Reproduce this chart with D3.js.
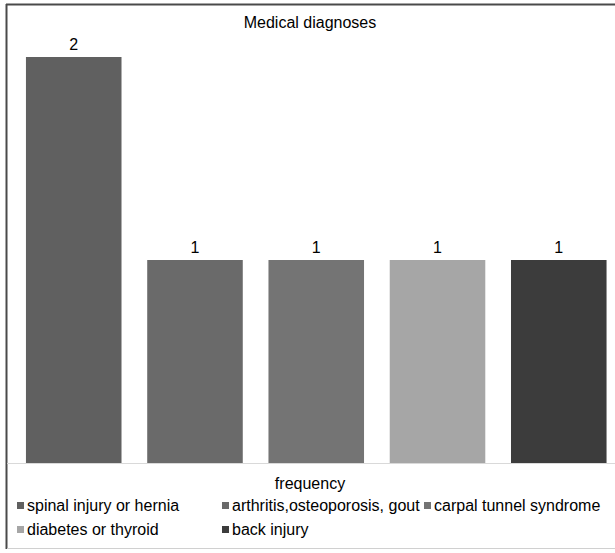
<!DOCTYPE html>
<html>
<head>
<meta charset="utf-8">
<script src="https://cdn.jsdelivr.net/npm/d3@7"></script>
<style>
  html, body { margin: 0; padding: 0; background: #fff; }
  svg { display: block; }
  text { font-family: "Liberation Sans", Arial, sans-serif; fill: #000; }
</style>
</head>
<body>
<script>
// Diagnosis categories and their counts
const categories = [
  "spinal injury or hernia",
  "arthritis,osteoporosis, gout",
  "carpal tunnel syndrome",
  "diabetes or thyroid",
  "back injury"
];
const frequency = [2, 1, 1, 1, 1];
const barColors = ["#606060", "#6a6a6a", "#747474", "#a6a6a6", "#3c3c3c"];
const chartTitle = "Medical diagnoses";
const seriesName = "frequency";

const W = 615, H = 553;
const svg = d3.select("body").append("svg").attr("width", W).attr("height", H);

// chart frame: dark left/top edges, light bottom edge
svg.append("rect").attr("x", 0).attr("y", 0).attr("width", W).attr("height", H).attr("fill", "#fff");
svg.append("line").attr("x1", 6.5).attr("x2", 6.5).attr("y1", 4).attr("y2", 549)
  .attr("stroke", "#4a4a4a").attr("stroke-width", 2);
svg.append("line").attr("x1", 6).attr("x2", W).attr("y1", 4.5).attr("y2", 4.5)
  .attr("stroke", "#4a4a4a").attr("stroke-width", 2);
svg.append("line").attr("x1", 7).attr("x2", W).attr("y1", 548.5).attr("y2", 548.5)
  .attr("stroke", "#d0d0d0").attr("stroke-width", 1);

const x = d3.scaleBand()
  .domain(categories)
  .range([13.1, 619.4])
  .paddingInner(0.212)
  .paddingOuter(0.106);

const y = d3.scaleLinear().domain([0, 2]).range([463, 57]);

// bars
svg.append("g").selectAll("rect")
  .data(categories)
  .join("rect")
  .attr("x", d => x(d))
  .attr("y", (d, i) => y(frequency[i]))
  .attr("width", x.bandwidth())
  .attr("height", (d, i) => y(0) - y(frequency[i]))
  .attr("fill", (d, i) => barColors[i]);

// category axis baseline
svg.append("line").attr("x1", 7).attr("x2", W).attr("y1", 463.5).attr("y2", 463.5)
  .attr("stroke", "#d9d9d9").attr("stroke-width", 1);

// value labels
svg.append("g").selectAll("text")
  .data(categories)
  .join("text")
  .attr("x", d => x(d) + x.bandwidth() / 2)
  .attr("y", (d, i) => y(frequency[i]) - 7)
  .attr("text-anchor", "middle")
  .attr("font-size", 16)
  .text((d, i) => frequency[i]);

// title
svg.append("text").attr("x", 310).attr("y", 28)
  .attr("text-anchor", "middle").attr("font-size", 16).text(chartTitle);

// series name under the axis
svg.append("text").attr("x", 310).attr("y", 489)
  .attr("text-anchor", "middle").attr("font-size", 16).text(seriesName);

// legend
const legendPos = [
  { sx: 17, row: 0 },
  { sx: 222, row: 0 },
  { sx: 424, row: 0 },
  { sx: 17, row: 1 },
  { sx: 222, row: 1 }
];
const legend = svg.append("g").selectAll("g")
  .data(categories)
  .join("g")
  .attr("transform", (d, i) => `translate(${legendPos[i].sx},${505.5 + legendPos[i].row * 24})`);
legend.append("rect")
  .attr("x", 0).attr("y", -3.5).attr("width", 7).attr("height", 7)
  .attr("fill", (d, i) => barColors[i]);
legend.append("text")
  .attr("x", 10).attr("y", 5.5)
  .attr("font-size", 16)
  .text(d => d);
</script>
</body>
</html>
